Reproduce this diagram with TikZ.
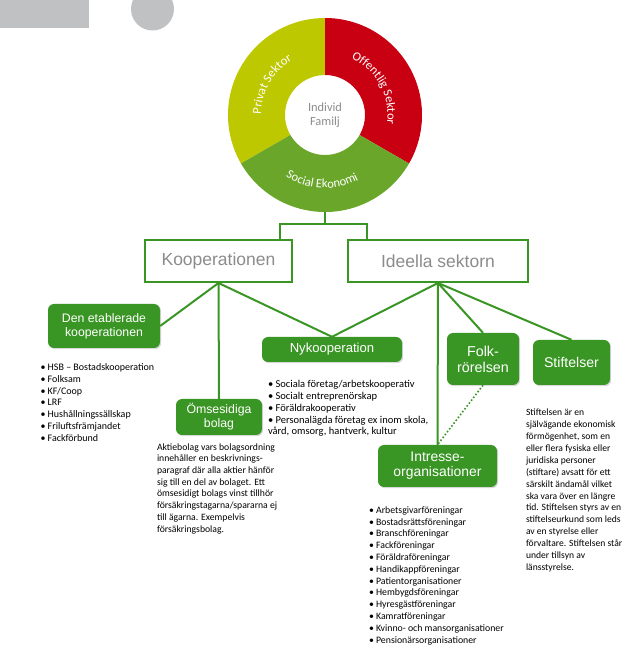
\documentclass[tikz,border=0pt]{standalone}
\usepackage{fontspec}
\setmainfont{Liberation Sans}
\newfontfamily\carl{Carlito}
\usepackage{tikz}
\usetikzlibrary{positioning,calc,decorations.text,shadows}
\definecolor{leaf}{RGB}{58,150,36}
\definecolor{privc}{RGB}{190,200,0}
\definecolor{offc}{RGB}{200,0,18}
\definecolor{socc}{RGB}{106,166,42}
\definecolor{greyc}{RGB}{192,193,195}
\definecolor{headtxt}{RGB}{140,140,140}
\tikzset{head/.style={draw=leaf,line width=2pt,fill=white,text=headtxt,font=\fontsize{17.5}{20}\selectfont,inner sep=0pt},grp/.style={fill=leaf,text=white,rounded corners=6pt,align=center,inner sep=0pt,drop shadow={shadow xshift=1.2pt,shadow yshift=-1.2pt,opacity=.3}},link/.style={draw=leaf,line width=2pt},dotlink/.style={draw=leaf,line width=1.6pt,dotted},lst/.style={align=left,inner sep=0pt,font=\carl\fontsize{10}{11.7}\selectfont},ringlbl/.style={decorate,decoration={text along path,text align=center,text color=white,text={|\carl\fontsize{12.5}{14}\selectfont|#1}}}}

\begin{document}
\begin{tikzpicture}[x=1pt,y=1pt]
\useasboundingbox (0,0) rectangle (640,657);
% grey corner marks
\begin{scope}
\clip (0,0) rectangle (640,657);
\fill[greyc] (0,628.5) rectangle (88.5,657);
\fill[greyc] (152.5,648) circle (21.5);
\end{scope}
% ring
\coordinate (ring) at (325,542);
\fill[privc] ($(ring)+(90:97)$) arc[start angle=90,end angle=210,radius=97pt] -- ($(ring)+(210:40)$) arc[start angle=210,end angle=90,radius=40pt] -- cycle;
\fill[offc] ($(ring)+(-30:97)$) arc[start angle=-30,end angle=90,radius=97pt] -- ($(ring)+(90:40)$) arc[start angle=90,end angle=-30,radius=40pt] -- cycle;
\fill[socc] ($(ring)+(210:97)$) arc[start angle=210,end angle=330,radius=97pt] -- ($(ring)+(330:40)$) arc[start angle=330,end angle=210,radius=40pt] -- cycle;
\path[ringlbl={Privat Sektor}] ($(ring)+(210:64)$) arc[start angle=210,end angle=90,radius=64pt];
\path[ringlbl={Offentlig Sektor}] ($(ring)+(88.5:62.5)$) arc[start angle=88.5,end angle=-31.5,radius=62.5pt];
\path[ringlbl={Social Ekonomi}] ($(ring)+(207:73)$) arc[start angle=207,end angle=328,radius=73pt];
\node[align=center,text=headtxt,font=\carl\fontsize{12.4}{14}\selectfont] (indiv) at (ring) {Individ\\Familj};
\coordinate (ringbot) at ($(ring)+(0,-97)$);
\coordinate (hub) at ($(ringbot)+(0,-12)$);

% main sectors
\node[head,minimum width=147pt,minimum height=42pt] (koop) at (218.5,396) {Kooperationen};
\node[head,minimum width=180pt,minimum height=42pt] (ideell) at (438,396) {Ideella sektorn};
\draw[link] (ringbot)--(hub);
\draw[link] ([xshift=-13pt]koop.north east) |- (hub) -| ([xshift=20pt]ideell.north west);

% groups
\node[grp,minimum width=112pt,minimum height=44pt,font=\fontsize{12.3}{14}\selectfont] (etab) at (104,331) {Den etablerade\\kooperationen};
\node[grp,minimum width=86pt,minimum height=36pt,font=\fontsize{12.3}{14}\selectfont] (omse) at (219,240) {Ömsesidiga\\bolag};
\node[grp,minimum width=140pt,minimum height=25pt,font=\fontsize{13.1}{15}\selectfont] (nyko) at (332,307.5) {Nykooperation};
\node[grp,minimum width=72pt,minimum height=52pt,font=\fontsize{14.3}{16}\selectfont] (folk) at (483,298) {Folk-\\rörelsen};
\node[grp,minimum width=77pt,minimum height=45pt,font=\fontsize{14.1}{16}\selectfont] (stif) at (571.5,294.5) {Stiftelser};
\node[grp,minimum width=119pt,minimum height=42pt,font=\fontsize{13.9}{15}\selectfont] (intr) at (437.5,191) {Intresse-\\organisationer};
\draw[link] (koop.south)--(etab.east);
\draw[link] (koop.south)--(omse.north);
\draw[link] (koop.south)--(nyko.north);
\draw[link] (ideell.south)--(nyko.north);
\draw[link] (ideell.south)--(intr.north);
\draw[link] (ideell.south)--(folk.north);
\draw[link] (ideell.south)--(stif.north);
\draw[dotlink] (folk.south)--(intr.north);

% texts
\node[lst,below right=15.5pt and -7.5pt of etab.south west] (etablist) {• HSB – Bostadskooperation\\• Folksam\\• KF/Coop\\• LRF\\• Hushållningssällskap\\• Friluftsfrämjandet\\• Fackförbund};
\node[lst,font=\carl\fontsize{9.7}{11.7}\selectfont,below right=8pt and -19pt of omse.south west] (omsetext) {Aktiebolag vars bolagsordning\\innehåller en beskrivnings-\\paragraf där alla aktier hänför\\sig till en del av bolaget. Ett\\ömsesidigt bolags vinst tillhör\\försäkringstagarna/spararna ej\\till ägarna. Exempelvis\\försäkringsbolag.};
\node[lst,font=\carl\fontsize{10.5}{11.8}\selectfont,below right=18pt and 6pt of nyko.south west] (nykolist) {• Sociala företag/arbetskooperativ\\• Socialt entreprenörskap\\• Föräldrakooperativ\\• Personalägda företag ex inom skola,\\vård, omsorg, hantverk, kultur};
\node[lst,font=\carl\fontsize{9.8}{11.8}\selectfont,below right=19pt and -9pt of intr.south west] (intrlist) {• Arbetsgivarföreningar\\• Bostadsrättsföreningar\\• Branschföreningar\\• Fackföreningar\\• Föräldraföreningar\\• Handikappföreningar\\• Patientorganisationer\\• Hembygdsföreningar\\• Hyresgästföreningar\\• Kamratföreningar\\• Kvinno- och mansorganisationer\\• Pensionärsorganisationer};
\node[lst,font=\carl\fontsize{9.6}{11.92}\selectfont,below right=23.5pt and -7pt of stif.south west] (stiftext) {Stiftelsen är en\\självägande ekonomisk\\förmögenhet, som en\\eller flera fysiska eller\\juridiska personer\\(stiftare) avsatt för ett\\särskilt ändamål vilket\\ska vara över en längre\\tid. Stiftelsen styrs av en\\stiftelseurkund som leds\\av en styrelse eller\\förvaltare. Stiftelsen står\\under tillsyn av\\länsstyrelse.};
\end{tikzpicture}
\end{document}
